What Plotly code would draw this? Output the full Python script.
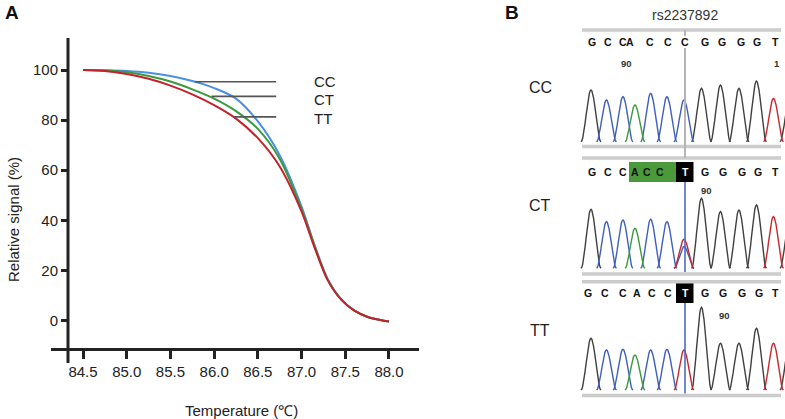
import math
import plotly.graph_objects as go

W, H = 785, 419
FONT = "Liberation Sans, Arial, sans-serif"

# ---------------- Panel A data: melting curves ----------------
temps = [84.5, 84.75, 85.0, 85.25, 85.5, 85.75, 86.0, 86.25, 86.5, 86.75,
         87.0, 87.15, 87.3, 87.45, 87.6, 87.75, 87.9, 88.0]
cc_signal = [100, 99.9, 99.6, 98.9, 97.6, 95.6, 92.8, 88.6, 79.5, 66.0,
             45.5, 30.0, 16.5, 8.6, 4.0, 1.5, 0.2, -0.4]
ct_signal = [100, 99.8, 99.1, 97.6, 95.4, 92.3, 88.6, 83.6, 76.5, 64.5,
             44.5, 29.6, 16.2, 8.5, 4.0, 1.5, 0.2, -0.4]
tt_signal = [100, 99.6, 98.4, 96.5, 93.8, 90.3, 86.0, 80.6, 72.8, 61.5,
             43.5, 29.0, 16.0, 8.4, 4.0, 1.5, 0.2, -0.4]
x_ticks = [84.5, 85.0, 85.5, 86.0, 86.5, 87.0, 87.5, 88.0]
y_ticks = [0, 20, 40, 60, 80, 100]

genotypes = ["CC", "CT", "TT"]
label_levels = [95.3, 89.5, 81.3]      # level of each genotype pointer line
label_line_start = [85.78, 85.97, 86.22]
label_line_end = 86.71
label_text_y = [95.3, 88.2, 80.5]
label_text_x = 87.12

# ---------------- Panel B data: chromatograms ----------------
snp_name = "rs2237892"
sequences = ["GCCACCCGGGGT", "GCCACCTGGGGT", "GCCACCTGGGGT"]
highlight = [None, (3, 5), None]       # green box over bases (index range)
snp_index = 6
letter_x = [
    [591.7, 608.3, 622.5, 629.5, 650.0, 668.3, 685.0, 705.0, 722.3, 740.7, 756.7, 775.0],
    [591.7, 608.3, 623.3, 635.0, 647.0, 659.5, 685.0, 705.0, 723.3, 741.7, 758.3, 775.0],
    [588.3, 605.0, 623.3, 636.7, 651.7, 668.3, 685.0, 705.0, 723.3, 741.7, 759.3, 775.0],
]
peak_x = [591.0, 606.5, 623.0, 635.0, 650.7, 667.0, 684.0, 701.5, 720.5, 739.0, 756.5, 773.5, 790.0]
peak_base = ["GCCACCCGGGGTG", "GCCACCTGGGGTG", "GCCACCTGGGGTG"]
peak_height = [
    [51.7, 41.7, 45.0, 36.7, 48.3, 45.0, 41.7, 53.3, 56.7, 53.3, 60.7, 43.3, 45.0],
    [59.0, 46.7, 48.3, 40.0, 49.0, 46.7, 29.0, 70.0, 56.7, 58.3, 63.3, 51.7, 50.0],
    [51.7, 40.0, 40.7, 35.0, 40.0, 40.7, 40.0, 82.7, 46.7, 46.7, 61.7, 46.7, 50.0],
]
secondary_peaks = [[], [(6, "C", 21.7)], []]   # heterozygous second peak
number_labels = [[("90", 626.7), ("1", 776.5)], [("90", 706.7)], [("90", 724.0)]]

# layout of panel B rows (pixel rows)
row_top_bar = [30.0, 158.0, 281.7]
row_letters = [42.0, 172.0, 293.0]
row_numbers = [63.0, 190.0, 315.0]
row_baseline = [141.7, 268.3, 390.0]
row_bottom_bar = [146.5, 274.0, 395.5]
row_label_y = [87.0, 205.0, 330.0]

CH_COLORS = {"G": "#404040", "C": "#3f5fb8", "A": "#3b9a3b", "T": "#c8272d"}

fig = go.Figure()

# ---- Panel A traces ----
for name, sig, col in [("CC", cc_signal, "#4a90e2"), ("CT", ct_signal, "#3a9a3f"),
                       ("TT", tt_signal, "#c4212b")]:
    fig.add_trace(go.Scatter(x=temps, y=sig, mode="lines", name=name,
                             line=dict(color=col, width=2, shape="spline", smoothing=0.9),
                             showlegend=False, xaxis="x", yaxis="y"))

# pointer lines
for g, lv, x0 in zip(genotypes, label_levels, label_line_start):
    fig.add_trace(go.Scatter(x=[x0, label_line_end], y=[lv, lv], mode="lines",
                             line=dict(color="#555555", width=1.6),
                             showlegend=False, xaxis="x", yaxis="y", hoverinfo="skip"))

annotations = []
for g, ty in zip(genotypes, label_text_y):
    annotations.append(dict(x=label_text_x, y=ty, xref="x", yref="y", text=g,
                            showarrow=False, xanchor="left", yanchor="middle",
                            font=dict(family=FONT, size=15, color="#222")))


def px(xp):
    return xp / W


def py(yp):
    return 1 - yp / H


# ---- Panel B traces ----
HALF = 10.0
for r in range(3):
    base = row_baseline[r]
    peaks = [(peak_x[i], peak_base[r][i], peak_height[r][i]) for i in range(len(peak_x))]
    for (idx, ch, h) in secondary_peaks[r]:
        peaks.append((peak_x[idx], ch, h))
    for ch in "GCAT":
        xs, ys = [], []
        for (cx, b, h) in peaks:
            if b != ch:
                continue
            n = 24
            for k in range(n + 1):
                dx = -HALF + 2 * HALF * k / n
                v = h * math.cos(math.pi * dx / (2 * HALF)) ** 2
                xs.append(cx + dx)
                ys.append(base - v)
            xs.append(None)
            ys.append(None)
        fig.add_trace(go.Scatter(x=xs, y=ys, mode="lines",
                                 line=dict(color=CH_COLORS[ch], width=1.4),
                                 showlegend=False, xaxis="x2", yaxis="y2", hoverinfo="skip"))

shapes = []
# Panel A axis lines (offset, Prism style)
shapes.append(dict(type="line", xref="paper", yref="paper", x0=px(51), x1=px(419),
                   y0=py(349.5), y1=py(349.5), line=dict(color="#222", width=3)))
shapes.append(dict(type="line", xref="paper", yref="paper", x0=px(68), x1=px(68),
                   y0=py(363), y1=py(38), line=dict(color="#222", width=3)))

BAR_X0, BAR_X1 = 582, 781
for r in range(3):
    for yb in (row_top_bar[r], row_bottom_bar[r]):
        shapes.append(dict(type="line", xref="x2", yref="y2", x0=BAR_X0, x1=BAR_X1,
                           y0=yb, y1=yb, line=dict(color="#cccccc", width=3.5)))
    if highlight[r] is not None:
        shapes.append(dict(type="rect", xref="x2", yref="y2", x0=629, x1=676,
                           y0=row_letters[r] - 10, y1=row_letters[r] + 10,
                           fillcolor="#4a9a3c", line=dict(width=0), layer="below"))
    if r > 0:
        shapes.append(dict(type="rect", xref="x2", yref="y2", x0=676, x1=693.5,
                           y0=row_letters[r] - 10, y1=row_letters[r] + 10,
                           fillcolor="#000000", line=dict(width=0), layer="below"))
        shapes.append(dict(type="line", xref="x2", yref="y2", x0=685, x1=685,
                           y0=row_letters[r] + 10, y1=row_bottom_bar[r] - 2,
                           line=dict(color="#4a6cc4", width=1.6)))
# CC gray SNP line
shapes.append(dict(type="line", xref="x2", yref="y2", x0=685, x1=685,
                   y0=row_letters[0] + 6, y1=row_top_bar[1],
                   line=dict(color="#b5b5b5", width=2)))
shapes.append(dict(type="line", xref="x2", yref="y2", x0=685, x1=685,
                   y0=row_top_bar[0], y1=row_letters[0] - 6,
                   line=dict(color="#b5b5b5", width=2)))

for r in range(3):
    for i, ch in enumerate(sequences[r]):
        col = "#111"
        if r > 0 and i == snp_index:
            col = "#ffffff"
        annotations.append(dict(x=letter_x[r][i], y=row_letters[r], xref="x2", yref="y2",
                                text="<b>%s</b>" % ch, showarrow=False,
                                xanchor="center", yanchor="middle",
                                font=dict(family=FONT, size=10.5, color=col)))
    for txt, xx in number_labels[r]:
        annotations.append(dict(x=xx, y=row_numbers[r], xref="x2", yref="y2",
                                text="<b>%s</b>" % txt, showarrow=False,
                                xanchor="center", yanchor="middle",
                                font=dict(family=FONT, size=9.5, color="#333")))
    annotations.append(dict(x=540, y=row_label_y[r], xref="x2", yref="y2",
                            text=genotypes[r], showarrow=False,
                            xanchor="center", yanchor="middle",
                            font=dict(family=FONT, size=16, color="#222")))

annotations.append(dict(x=685, y=15, xref="x2", yref="y2", text=snp_name, showarrow=False,
                        xanchor="center", yanchor="middle",
                        font=dict(family=FONT, size=14, color="#333")))

# panel letters and axis titles
annotations.append(dict(x=px(12), y=py(12), xref="paper", yref="paper", text="<b>A</b>",
                        showarrow=False, xanchor="center", yanchor="middle",
                        font=dict(family=FONT, size=19, color="#111")))
annotations.append(dict(x=px(512), y=py(12), xref="paper", yref="paper", text="<b>B</b>",
                        showarrow=False, xanchor="center", yanchor="middle",
                        font=dict(family=FONT, size=19, color="#111")))
annotations.append(dict(x=px(241), y=py(410), xref="paper", yref="paper",
                        text="Temperature (℃)", showarrow=False,
                        xanchor="center", yanchor="middle",
                        font=dict(family=FONT, size=15, color="#222")))
annotations.append(dict(x=px(13), y=py(220), xref="paper", yref="paper",
                        text="Relative signal (%)", showarrow=False, textangle=-90,
                        xanchor="center", yanchor="middle",
                        font=dict(family=FONT, size=15, color="#222")))

x_left = 84.5 - 15 / 87.4
x_right = 88.0 + 30 / 87.4
fig.update_layout(
    width=W, height=H, margin=dict(l=0, r=0, t=0, b=0),
    paper_bgcolor="white", plot_bgcolor="white",
    xaxis=dict(domain=[px(68), px(419)], range=[x_left, x_right], tickvals=x_ticks,
               ticktext=["%.1f" % v for v in x_ticks], ticks="outside", ticklen=8,
               tickwidth=2.5, tickcolor="#222", showgrid=False, zeroline=False,
               showline=False, tickfont=dict(family=FONT, size=15, color="#222")),
    yaxis=dict(domain=[py(349.5), py(38)], range=[-11.6, 112.8], tickvals=y_ticks,
               ticks="outside", ticklen=6, tickwidth=2.5, tickcolor="#222",
               showgrid=False, zeroline=False, showline=False,
               tickfont=dict(family=FONT, size=15, color="#222")),
    xaxis2=dict(domain=[px(480), 1], range=[480, 785], visible=False, anchor="y2"),
    yaxis2=dict(domain=[0, 1], range=[419, 0], visible=False, anchor="x2"),
    shapes=shapes, annotations=annotations,
)

fig.write_html("out.html", config={"displayModeBar": False},
               post_script="document.body.style.margin='0';document.body.style.padding='0';")
